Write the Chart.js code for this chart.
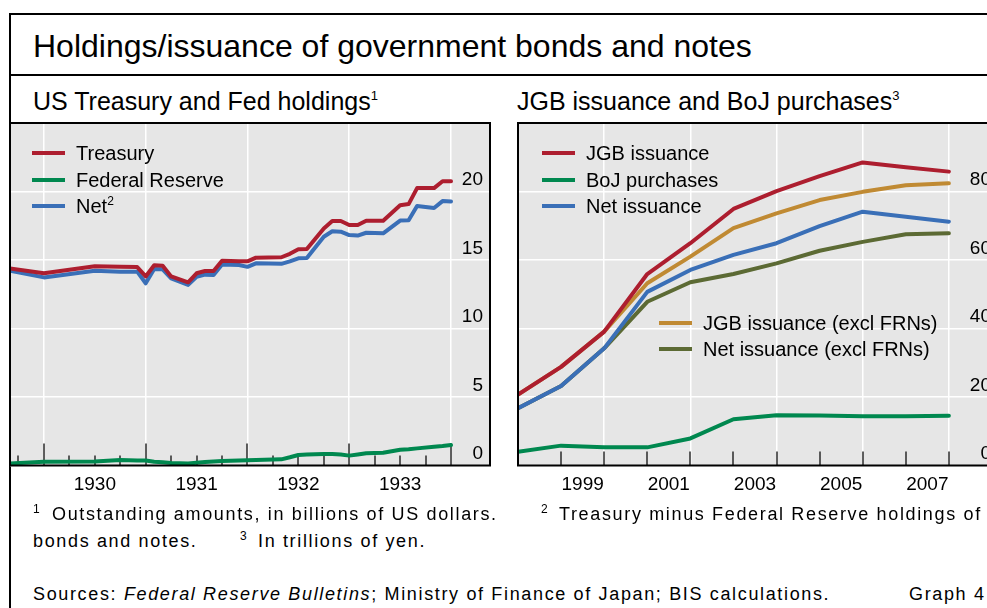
<!DOCTYPE html>
<html><head><meta charset="utf-8">
<script src="https://cdn.jsdelivr.net/npm/chart.js@4.4.1/dist/chart.umd.min.js"></script>
<style>
html,body{margin:0;padding:0;width:987px;height:608px;overflow:hidden;background:#fff;}
body{position:relative;font-family:"Liberation Sans",Arial,Helvetica,sans-serif;color:#000;}
.abs{position:absolute;white-space:nowrap;}
#frame{left:9px;top:13px;width:1200px;height:800px;border:2px solid #000;box-sizing:border-box;}
#rule{left:9px;top:74px;width:1200px;height:2px;background:#000;}
#title{left:33px;top:30px;font-size:32px;line-height:32px;}
.sub{top:89px;font-size:25px;line-height:25px;}
.sup{position:relative;font-size:0.52em;top:-0.8em;}
canvas{position:absolute;top:113px;}
.legend{position:absolute;font-size:20px;line-height:20px;}
.legend .row{position:absolute;left:0;height:20px;white-space:nowrap;}
.legend .sw{position:absolute;left:0;top:8px;width:33px;height:4px;}
.legend .tx{position:absolute;top:0;left:44px;}
.legend .sup{font-size:12px;top:-8px;}
.fn{font-size:18px;line-height:18px;letter-spacing:1.65px;}
.fn .sup{font-size:12px;top:-7px;letter-spacing:0;}
</style></head>
<body>
<div id="frame" class="abs"></div>
<div id="rule" class="abs"></div>
<div id="title" class="abs">Holdings/issuance of government bonds and notes</div>
<div class="abs sub" style="left:33px">US Treasury and Fed holdings<span class="sup">1</span></div>
<div class="abs sub" style="left:517px">JGB issuance and BoJ purchases<span class="sup">3</span></div>
<canvas id="usChart" width="500" height="400" style="left:0;width:500px;height:400px"></canvas>
<canvas id="jpChart" width="500" height="400" style="left:508px;width:500px;height:400px"></canvas>
<div id="legUS" class="legend" style="left:32px;top:143px"></div>
<div id="legJP1" class="legend" style="left:542px;top:143px"></div>
<div id="legJP2" class="legend" style="left:659px;top:313px"></div>

<div class="abs fn" style="left:33px;top:505px"><span class="sup">1</span></div>
<div class="abs fn" style="left:52px;top:505px">Outstanding amounts, in billions of US dollars.</div>
<div class="abs fn" style="left:541px;top:505px"><span class="sup">2</span></div>
<div class="abs fn" style="left:559px;top:505px">Treasury minus Federal Reserve holdings of</div>
<div class="abs fn" style="left:33px;top:532px">bonds and notes.</div>
<div class="abs fn" style="left:240px;top:532px"><span class="sup">3</span></div>
<div class="abs fn" style="left:258px;top:532px">In trillions of yen.</div>
<div class="abs fn" style="left:33px;top:585px">Sources: <i>Federal Reserve Bulletins</i>; Ministry of Finance of Japan; BIS calculations.</div>
<div class="abs fn" style="left:909px;top:585px">Graph 4</div>

<script>
// ---------- US panel data (billions of US dollars), month-end observations ----------
const usMonths = ['1929-08','1929-12','1930-06','1930-09','1930-11','1930-12','1931-01','1931-02','1931-03','1931-05','1931-06','1931-07','1931-08','1931-09','1931-11','1931-12','1932-01','1932-04','1932-05','1932-06','1932-07','1932-09','1932-10','1932-11','1932-12','1933-01','1933-02','1933-04','1933-06','1933-07','1933-08','1933-10','1933-11','1933-12'];
const usTreasury = [14.38,14.03,14.55,14.5,14.48,13.8,14.62,14.58,13.8,13.37,14.03,14.2,14.2,14.95,14.9,14.9,15.17,15.2,15.45,15.78,15.8,17.3,17.85,17.85,17.55,17.55,17.87,17.87,19.0,19.08,20.25,20.25,20.75,20.75];
const usFed = [0.15,0.28,0.3,0.4,0.37,0.36,0.28,0.23,0.18,0.15,0.2,0.25,0.3,0.33,0.37,0.38,0.4,0.45,0.6,0.77,0.8,0.84,0.84,0.8,0.72,0.8,0.89,0.93,1.15,1.18,1.25,1.37,1.42,1.5];
const usNet = [14.22,13.73,14.22,14.15,14.15,13.3,14.34,14.32,13.66,13.18,13.78,13.93,13.9,14.68,14.63,14.5,14.76,14.72,14.9,15.12,15.15,16.7,17.1,17.07,16.82,16.78,16.99,16.95,17.88,17.9,18.94,18.8,19.3,19.27];
const usTickYears = ['1930','1931','1932','1933'];

// ---------- Japan panel data (trillions of yen), year-end observations ----------
const jpYears = [1997,1998,1999,2000,2001,2002,2003,2004,2005,2006,2007];
const jgbIssuance = [20.7,28.8,39.1,55.9,64.9,74.9,80.1,84.5,88.5,87.1,85.8];
const bojPurchases = [4.0,5.8,5.3,5.3,7.9,13.5,14.7,14.6,14.4,14.4,14.5];
const netIssuance = [16.7,23.2,34.2,50.7,57.1,61.5,64.9,69.9,74.1,72.6,71.2];
const jgbExFrn = [20.7,28.8,39.1,53.2,61.0,69.3,73.6,77.5,79.9,81.8,82.4];
const netExFrn = [16.7,23.2,34.2,47.8,53.5,55.9,59.0,62.7,65.3,67.5,67.8];
const jpTickYears = ['1999','2001','2003','2005','2007'];

// ---------- styling ----------
const FONT = '"Liberation Sans", Arial, sans-serif';
const RED = '#ad1e2f', GREEN = '#00884f', BLUE = '#3a6fb7', GOLD = '#c08a33', OLIVE = '#5c6a34';
const BG = '#e6e6e6';

const monthPos = m => { const p = m.split('-').map(Number); return p[0] + p[1] / 12; };
const pts = (xs, ys) => xs.map((x, i) => ({ x: x, y: ys[i] }));
const usX = usMonths.map(monthPos);
const jpX = jpYears.map(y => y + 1); // plotted at year end

const US_MIN = 1929 + 8 / 12, US_MAX = 1934.383;
const JP_MIN = 1998, JP_MAX = 2009.14;

// tick marks drawn inside the plot (year = long, quarter = short)
const usMarks = [];
for (let q = 1929.75; q <= 1934.001; q += 0.25) {
  usMarks.push([q, Math.abs(q - Math.round(q)) < 1e-6 ? 22 : 10]);
}
const jpMarks = [];
for (let y = 1999; y <= 2008; y++) jpMarks.push([y, 14]);

const panelPlugin = {
  id: 'panel',
  beforeDraw(chart) {
    const { ctx, chartArea: a } = chart;
    ctx.save(); ctx.fillStyle = BG;
    ctx.fillRect(a.left, a.top, a.right - a.left, a.bottom - a.top);
    ctx.restore();
  },
  beforeDatasetsDraw(chart, args, opts) {
    const { ctx, chartArea: a } = chart; const xs = chart.scales.x;
    ctx.save(); ctx.strokeStyle = '#2a2a2a'; ctx.lineWidth = 1.5;
    (opts.marks || []).forEach(m => {
      const px = Math.round(xs.getPixelForValue(m[0]));
      ctx.beginPath(); ctx.moveTo(px, a.bottom); ctx.lineTo(px, a.bottom - m[1]); ctx.stroke();
    });
    ctx.restore();
  },
  afterDatasetsDraw(chart) {
    const { ctx, chartArea: a } = chart;
    ctx.save(); ctx.strokeStyle = '#000'; ctx.lineWidth = 2;
    ctx.strokeRect(a.left, a.top, a.right - a.left, a.bottom - a.top);
    ctx.restore();
  }
};

const noPadX = s => { s.paddingLeft = 0; s.paddingRight = 0; };

function makeOptions(xmin, xmax, gridVals, labelYears, ymax, ystep, marks) {
  return {
    responsive: false, animation: false, events: [],
    layout: { padding: { left: 10, right: 10, top: 10, bottom: 0 } },
    elements: { line: { borderWidth: 4, tension: 0, borderJoinStyle: 'round', borderCapStyle: 'round' }, point: { radius: 0 } },
    plugins: { legend: { display: false }, tooltip: { enabled: false }, panel: { marks: marks } },
    scales: {
      x: {
        type: 'linear', position: 'bottom', min: xmin, max: xmax,
        afterBuildTicks: s => { s.ticks = gridVals.map(v => ({ value: v })); },
        grid: { color: '#ffffff', lineWidth: 1.5, drawTicks: false },
        border: { display: false }, ticks: { display: false },
        afterFit: s => { s.height = 0; noPadX(s); }
      },
      xl: {
        type: 'linear', position: 'bottom', min: xmin, max: xmax,
        afterBuildTicks: s => { s.ticks = labelYears.map(y => ({ value: Number(y) + 0.5 })); },
        grid: { display: false, drawTicks: false }, border: { display: false },
        ticks: { color: '#000', font: { family: FONT, size: 19 }, padding: 8, maxRotation: 0, autoSkip: false,
                 callback: (v, i) => labelYears[i] },
        afterFit: s => { s.height = 47.5; noPadX(s); }
      },
      y: {
        type: 'linear', position: 'right', min: 0, max: ymax,
        ticks: { stepSize: ystep, mirror: true, padding: -7, labelOffset: -11.5, color: '#000',
                 font: { family: FONT, size: 19 }, callback: v => (v === ymax ? '' : String(v)) },
        grid: { color: '#ffffff', lineWidth: 1.5, drawTicks: false },
        border: { display: false },
        afterFit: s => { s.width = 0; s.paddingTop = 0; s.paddingBottom = 0; }
      }
    }
  };
}

const usChart = new Chart(document.getElementById('usChart'), {
  type: 'line',
  data: { datasets: [
    { label: 'Treasury', data: pts(usX, usTreasury), borderColor: RED },
    { label: 'Federal Reserve', data: pts(usX, usFed), borderColor: GREEN },
    { label: 'Net', note: '2', data: pts(usX, usNet), borderColor: BLUE }
  ] },
  options: makeOptions(US_MIN, US_MAX, [1930, 1931, 1932, 1933, 1934], usTickYears, 25, 5, usMarks),
  plugins: [panelPlugin]
});

const jpChart = new Chart(document.getElementById('jpChart'), {
  type: 'line',
  data: { datasets: [
    { label: 'JGB issuance', data: pts(jpX, jgbIssuance), borderColor: RED },
    { label: 'BoJ purchases', data: pts(jpX, bojPurchases), borderColor: GREEN },
    { label: 'Net issuance', data: pts(jpX, netIssuance), borderColor: BLUE },
    { label: 'JGB issuance (excl FRNs)', data: pts(jpX, jgbExFrn), borderColor: GOLD },
    { label: 'Net issuance (excl FRNs)', data: pts(jpX, netExFrn), borderColor: OLIVE }
  ] },
  options: makeOptions(JP_MIN, JP_MAX, [2000, 2002, 2004, 2006, 2008], jpTickYears, 100, 20, jpMarks),
  plugins: [panelPlugin]
});

function buildLegend(id, chart, idx, step) {
  const el = document.getElementById(id);
  idx.forEach((di, r) => {
    const ds = chart.data.datasets[di];
    const row = document.createElement('div'); row.className = 'row'; row.style.top = (r * step) + 'px';
    const sw = document.createElement('div'); sw.className = 'sw'; sw.style.background = ds.borderColor;
    const tx = document.createElement('div'); tx.className = 'tx'; tx.textContent = ds.label;
    if (ds.note) { const s = document.createElement('span'); s.className = 'sup'; s.textContent = ds.note; tx.appendChild(s); }
    row.appendChild(sw); row.appendChild(tx); el.appendChild(row);
  });
}
buildLegend('legUS', usChart, [0, 1, 2], 26.5);
buildLegend('legJP1', jpChart, [0, 1, 2], 26.5);
buildLegend('legJP2', jpChart, [3, 4], 26);
</script>
</body></html>
